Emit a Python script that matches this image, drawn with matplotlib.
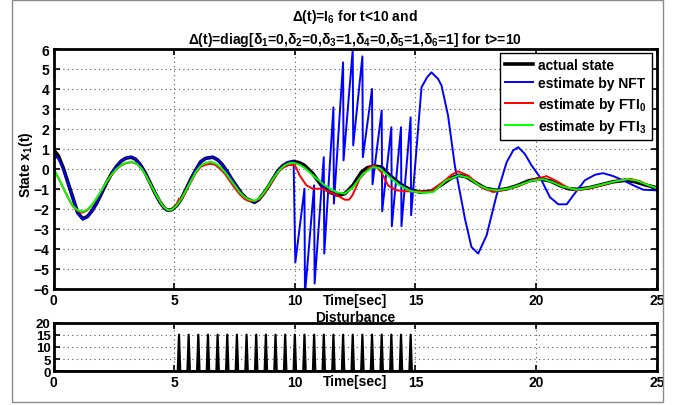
import matplotlib.pyplot as plt
from matplotlib.patches import Rectangle

# fonts (MATLAB-ish bold helvetica look)
plt.rcParams["font.family"] = "Liberation Sans"
plt.rcParams["font.weight"] = "bold"
plt.rcParams["font.size"] = 10
plt.rcParams["axes.titleweight"] = "bold"
plt.rcParams["axes.labelweight"] = "bold"
plt.rcParams["mathtext.fontset"] = "custom"
plt.rcParams["mathtext.rm"] = "Liberation Sans:bold"
plt.rcParams["mathtext.bf"] = "Liberation Sans:bold"
plt.rcParams["mathtext.it"] = "Liberation Sans:bold"
plt.rcParams["mathtext.default"] = "bf"

# ---- data ----
# actual state x1(t)
t_actual = [0, 0.2, 0.4, 0.6, 0.8, 1.0, 1.21, 1.4, 1.6, 1.8, 2.0, 2.2, 2.4, 2.6, 2.8, 3.0,
            3.21, 3.4, 3.6, 3.8, 4.0, 4.2, 4.4, 4.6, 4.74, 4.9, 5.1, 5.3, 5.5, 5.7, 5.9,
            6.1, 6.3, 6.6, 6.8, 7.0, 7.2, 7.4, 7.6, 7.8, 8.0, 8.33, 8.5, 8.7, 8.9, 9.1,
            9.3, 9.5, 9.7, 9.95, 10.2, 10.4, 10.75, 11.1, 11.44, 11.79, 12.07, 12.41, 12.76,
            13.0, 13.3, 13.6, 13.93, 14.35, 14.76, 15.18, 15.66, 16.14, 16.5, 16.8, 17.1,
            17.5, 17.9, 18.35, 18.8, 19.2, 19.7, 20.15, 20.6, 21.0, 21.35, 21.7, 22.2, 22.7,
            23.2, 23.7, 24.1, 24.5, 25]
x_actual = [0.95, 0.65, 0.05, -0.7, -1.45, -2.2, -2.5, -2.4, -2.1, -1.7, -1.2, -0.7, -0.25,
            0.1, 0.38, 0.53, 0.58, 0.48, 0.2, -0.2, -0.7, -1.2, -1.65, -1.98, -2.08, -2.05,
            -1.85, -1.5, -1.0, -0.5, -0.05, 0.35, 0.52, 0.58, 0.45, 0.2, -0.15, -0.55, -0.9,
            -1.25, -1.5, -1.68, -1.55, -1.25, -0.9, -0.5, -0.1, 0.15, 0.3, 0.37, 0.3, 0.17,
            -0.25, -0.83, -1.17, -1.33, -1.25, -0.83, -0.17, 0.05, 0.14, 0.08, -0.33, -0.75,
            -1.03, -1.17, -1.12, -0.75, -0.45, -0.33, -0.4, -0.7, -0.98, -1.08, -1.0, -0.85,
            -0.6, -0.5, -0.62, -0.85, -1.0, -1.03, -0.95, -0.8, -0.65, -0.58, -0.65, -0.8,
            -0.95]

# estimate by NFT
t_nft = [0, 0.1, 0.2, 0.4, 0.6, 0.8, 1.0, 1.21, 1.4, 1.6, 1.8, 2.0, 2.2, 2.4, 2.6, 2.8, 3.0,
         3.21, 3.4, 3.6, 3.8, 4.0, 4.2, 4.4, 4.6, 4.74, 4.9, 5.1, 5.3, 5.5, 5.7, 5.9,
         6.1, 6.3, 6.6, 6.8, 7.0, 7.2, 7.4, 7.6, 7.8, 8.0, 8.33, 8.5, 8.7, 8.9, 9.1,
         9.3, 9.5, 9.7, 9.95,
         10.02, 10.4, 10.42, 10.8, 10.82, 11.2, 11.22, 11.6, 11.62, 12.0, 12.02, 12.4, 12.42,
         12.8, 12.82, 13.2, 13.22, 13.6, 13.62, 14.0, 14.02, 14.4, 14.42, 14.8, 14.82,
         15.25, 15.48, 15.66, 15.94, 16.08, 16.35, 16.63, 17.05, 17.32, 17.6, 17.95, 18.36,
         18.78, 19.05, 19.26, 19.53, 19.81, 20.16, 20.57, 20.92, 21.27, 21.54, 22.02, 22.44,
         22.78, 23.2, 23.61, 24.03, 24.44, 25]
x_nft = [0.5, 0.6, 0.5, 0.0, -0.7, -1.45, -2.2, -2.55, -2.42, -2.1, -1.7, -1.2, -0.7, -0.25,
         0.1, 0.38, 0.53, 0.6, 0.48, 0.2, -0.2, -0.7, -1.2, -1.65, -1.98, -2.1, -2.05,
         -1.85, -1.5, -1.0, -0.5, -0.05, 0.35, 0.52, 0.58, 0.45, 0.2, -0.15, -0.55, -0.9,
         -1.25, -1.5, -1.68, -1.55, -1.25, -0.9, -0.5, -0.1, 0.15, 0.3, 0.37,
         -4.7, -1.0, -6.3, -0.83, -5.75, 0.58, -4.25, 3.08, -1.75, 5.33, 0.42, 5.97, 1.17,
         5.63, 0.58, 4.0, -0.78, 2.92, -2.13, 2.08, -2.88, 2.08, -2.88, 2.58, -2.33,
         4.08, 4.58, 4.83, 4.5, 4.17, 2.67, 0.17, -2.5, -3.92, -4.25, -3.33, -1.33,
         0.33, 0.92, 1.08, 0.75, 0.17, -0.42, -1.42, -1.78, -1.78, -1.33, -0.58, -0.3,
         -0.22, -0.37, -0.58, -0.83, -1.05, -1.08]

# estimate by FTI_0
t_fti0 = [0, 0.2, 0.4, 0.6, 0.8, 1.0, 1.2, 1.4, 1.6, 1.8, 2.0, 2.2, 2.4, 2.6, 2.8, 3.0, 3.25,
          3.45, 3.65, 3.85, 4.05, 4.25, 4.45, 4.6, 4.75, 4.9, 5.1, 5.2, 5.3, 5.5, 5.7, 5.9,
          6.1, 6.3, 6.5, 6.7, 6.9, 7.1, 7.3, 7.5, 7.7, 7.9, 8.1, 8.35, 8.55, 8.75, 8.95,
          9.15, 9.35, 9.55, 9.75, 10.0, 10.2, 10.48, 10.75, 11.16, 11.44, 11.72, 12.07,
          12.25, 12.4, 12.69, 13.1, 13.31, 13.59, 13.86, 14.21, 14.63, 15.18, 15.6, 16.2,
          16.5, 16.77, 17.2, 17.7, 18.22, 18.7, 19.3, 19.9, 20.43, 20.9, 21.3, 21.65, 22.2,
          22.8, 23.4, 23.89, 24.3, 24.7, 25]
x_fti0 = [0.0, -0.45, -0.95, -1.45, -1.88, -2.1, -2.2, -2.08, -1.82, -1.47, -1.07, -0.67,
          -0.32, -0.04, 0.16, 0.28, 0.33, 0.24, 0.0, -0.38, -0.85, -1.3, -1.72, -1.95, -2.08,
          -2.05, -1.8, -1.5, -1.55, -1.1, -0.65, -0.2, 0.1, 0.2, 0.25, 0.2, 0.0, -0.25, -0.6,
          -0.95, -1.25, -1.5, -1.62, -1.62, -1.5, -1.2, -0.85, -0.45, -0.12, 0.08, 0.18, 0.2,
          -0.33, -0.83, -1.0, -1.0, -1.17, -1.3, -1.55, -1.55, -1.3, -0.5, 0.08, 0.17, -0.17,
          -0.83, -1.08, -1.13, -1.13, -1.15, -0.6, -0.3, -0.13, -0.35, -0.9, -1.17, -1.05,
          -0.85, -0.55, -0.37, -0.65, -0.95, -1.08, -0.98, -0.8, -0.58, -0.5, -0.62, -0.85,
          -0.97]

# estimate by FTI_3
t_fti3 = [0, 0.2, 0.4, 0.6, 0.8, 1.0, 1.2, 1.4, 1.6, 1.8, 2.0, 2.2, 2.4, 2.6, 2.8, 3.0, 3.25,
          3.45, 3.65, 3.85, 4.05, 4.25, 4.45, 4.6, 4.75, 4.9, 5.1, 5.3, 5.5, 5.7, 5.9,
          6.1, 6.3, 6.5, 6.7, 6.9, 7.1, 7.3, 7.5, 7.7, 7.9, 8.1, 8.35, 8.55, 8.75, 8.95,
          9.15, 9.35, 9.55, 9.75, 9.95, 10.2, 10.4, 10.75, 11.24, 11.72, 12.07, 12.41, 12.83,
          13.24, 13.52, 13.93, 14.35, 14.83, 15.3, 15.73, 16.28, 16.8, 17.2, 17.6, 18.0,
          18.4, 18.9, 19.4, 19.8, 20.3, 20.7, 21.1, 21.7, 22.2, 22.7, 23.2, 23.8, 24.2, 24.6,
          25]
x_fti3 = [0.0, -0.45, -0.95, -1.45, -1.85, -2.08, -2.15, -2.05, -1.8, -1.45, -1.05, -0.65,
          -0.3, -0.02, 0.18, 0.3, 0.35, 0.25, 0.0, -0.38, -0.85, -1.3, -1.72, -1.95, -2.08,
          -2.05, -1.85, -1.5, -1.05, -0.6, -0.15, 0.15, 0.3, 0.35, 0.28, 0.1, -0.15, -0.48,
          -0.82, -1.15, -1.4, -1.55, -1.6, -1.45, -1.15, -0.78, -0.4, -0.08, 0.15, 0.27, 0.3,
          0.2, 0.05, -0.33, -0.83, -1.17, -1.25, -0.92, -0.25, 0.08, 0.03, -0.42, -0.83,
          -1.13, -1.2, -1.17, -0.58, -0.33, -0.45, -0.8, -1.02, -1.08, -0.98, -0.78, -0.6,
          -0.52, -0.68, -0.9, -1.05, -0.95, -0.8, -0.65, -0.52, -0.6, -0.8, -0.97]

# disturbance pulses
spike_times = [5.2, 5.6, 6.0, 6.4, 6.8, 7.2, 7.6, 8.0, 8.4, 8.8, 9.2, 9.6, 10.0,
               10.4, 10.8, 11.2, 11.6, 12.0, 12.4, 12.8, 13.2, 13.6, 14.0, 14.4, 14.8]
pulse_height = 15

x_ticks = [0, 5, 10, 15, 20, 25]
y_ticks_main = [-6, -5, -4, -3, -2, -1, 0, 1, 2, 3, 4, 5, 6]
y_ticks_dist = [0, 5, 10, 15, 20]

GRID = dict(color="0.35", linestyle=(0, (1, 3)), linewidth=0.8)


def style_axes(ax):
    for s in ax.spines.values():
        s.set_linewidth(2)
    ax.tick_params(direction="in", top=True, right=True, length=4, width=1.2, pad=3)
    ax.grid(True, **GRID)
    ax.set_axisbelow(True)


fig = plt.figure(figsize=(6.81, 4.06), dpi=100)
# grey frame round the whole figure
fig.patches.append(Rectangle((12 / 681, 1 - 403 / 406), 651 / 681, 402 / 406,
                             transform=fig.transFigure, fill=False,
                             edgecolor="0.55", linewidth=1))

# main plot
ax1 = fig.add_axes([0.0786, 0.2869, 0.8858, 0.5899])
ax1.plot(t_actual, x_actual, color="black", linewidth=2.6, label="actual state")
ax1.plot(t_nft, x_nft, color="#0000ff", linewidth=1.4, label="estimate by NFT")
ax1.plot(t_fti0, x_fti0, color="#ff0000", linewidth=1.4, label="estimate by FTI$_0$")
ax1.plot(t_fti3, x_fti3, color="#00ff00", linewidth=1.4, label="estimate by FTI$_3$")
ax1.set_xlim(0, 25)
ax1.set_ylim(-6, 6)
ax1.set_xticks(x_ticks)
ax1.set_yticks(y_ticks_main)
style_axes(ax1)
ax1.set_xlabel("Time[sec]")
ax1.xaxis.set_label_coords(0.5, -0.02)
ax1.set_ylabel("State x$_1$(t)")
ax1.yaxis.set_label_coords(-0.031, 0.52)
ax1.set_title("\u0394(t)=I$_6$ for t<10 and\n"
              "\u0394(t)=diag[\u03b4$_1$=0,\u03b4$_2$=0,\u03b4$_3$=1,\u03b4$_4$=0,"
              "\u03b4$_5$=1,\u03b4$_6$=1] for t>=10",
              fontsize=10, pad=4, linespacing=1.4)
leg = ax1.legend(loc="upper right", bbox_to_anchor=(0.992, 0.985), borderaxespad=0,
                 fancybox=False, framealpha=1, edgecolor="black", handlelength=2,
                 handletextpad=0.35, labelspacing=0.3, borderpad=0.4)
leg.get_frame().set_linewidth(1)

# disturbance plot
dist_t = [0]
dist_v = [0]
for s in spike_times:
    dist_t += [s - 0.05, s, s + 0.05]
    dist_v += [0, pulse_height, 0]
dist_t.append(25)
dist_v.append(0)

ax2 = fig.add_axes([0.0786, 0.0830, 0.8858, 0.1202])
ax2.plot(dist_t, dist_v, color="black", linewidth=1.6)
ax2.set_xlim(0, 25)
ax2.set_ylim(0, 20)
ax2.set_xticks(x_ticks)
ax2.set_yticks(y_ticks_dist)
style_axes(ax2)
ax2.tick_params(axis="y", labelsize=9.5, pad=2)
ax2.set_title("Disturbance", fontsize=10, pad=1)
ax2.set_xlabel("Time[sec]")
ax2.xaxis.set_label_coords(0.5, -0.06)

plt.savefig("out.png", dpi=100)
